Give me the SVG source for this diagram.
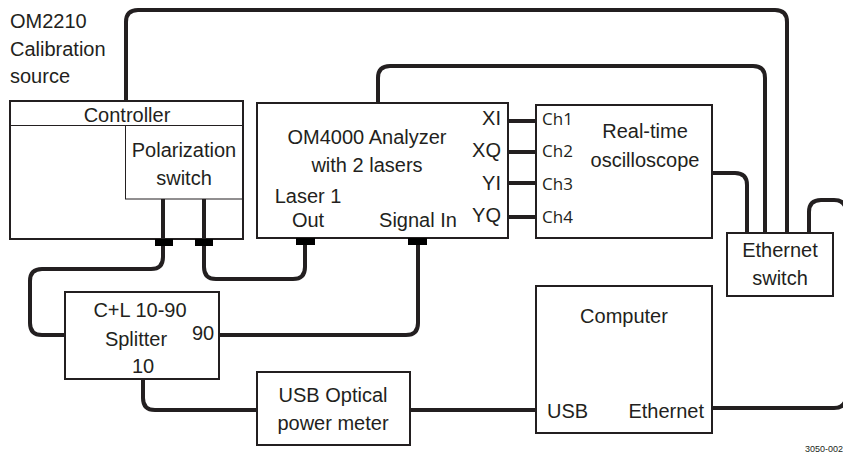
<svg xmlns="http://www.w3.org/2000/svg" width="843" height="455" viewBox="0 0 843 455">
<style>
.box{fill:#fff;stroke:#231f20;stroke-width:2}
.thin{fill:none;stroke:#231f20;stroke-width:1}
.cable{fill:none;stroke:#231f20;stroke-width:4;stroke-linejoin:round}
.conn{fill:#000}
text{font-family:"Liberation Sans",Arial,sans-serif;font-size:20px;fill:#231f20}
.c{text-anchor:middle}
.r{text-anchor:end}
.ch{font-family:"Open Sans","Liberation Sans",sans-serif;font-size:17px}
.note{font-size:9px}
</style>
<rect width="843" height="455" fill="#fff"/>
<g id="connectors">
<path class="cable" d="M126,101 V22 Q126,10 138,10 H775 Q787,10 787,22 V233"/>
<path class="cable" d="M378,103 V78 Q378,66 390,66 H753 Q765,66 765,78 V233"/>
<path class="cable" d="M712,173 H735 Q747,173 747,185 V233"/>
<path class="cable" d="M809,233 V212 Q809,200 821,200 H834 Q846,200 846,212 V396 Q846,408 834,408 H712"/>
<path class="cable" d="M508,121 H536 M508,152 H536 M508,183 H536 M508,217 H536"/>
<path class="cable" d="M163,199 V257 Q163,269 151,269 H42 Q30,269 30,281 V323 Q30,335 42,335 H65"/>
<path class="cable" d="M204,199 V267 Q204,279 216,279 H293 Q305,279 305,267 V240"/>
<path class="cable" d="M418,240 V323 Q418,335 406,335 H219"/>
<path class="cable" d="M143,379 V398 Q143,410 155,410 H257"/>
<path class="cable" d="M410,410 H536"/>
</g>
<g id="om2210">
<text x="10" y="28">OM2210</text>
<text x="10" y="56">Calibration</text>
<text x="10" y="83">source</text>
<rect class="box" x="10" y="101" width="233" height="138"/>
<line class="thin" x1="10" y1="125.5" x2="243" y2="125.5"/>
<rect class="thin" x="125.5" y="125.5" width="117.5" height="73.5"/>
<text class="c" x="127" y="122">Controller</text>
<text class="c" x="184" y="157">Polarization</text>
<text class="c" x="184" y="185">switch</text>
<path class="cable" d="M163,199 V240 M204,199 V240"/>
<rect class="conn" x="155" y="239" width="18" height="7"/>
<rect class="conn" x="195" y="239" width="18" height="7"/>
</g>
<g id="analyzer">
<rect class="box" x="257" y="103" width="251" height="135"/>
<text class="c" x="367" y="144">OM4000 Analyzer</text>
<text class="c" x="367" y="172">with 2 lasers</text>
<text class="c" x="308" y="203">Laser 1</text>
<text class="c" x="308" y="227">Out</text>
<text class="c" x="418" y="227">Signal In</text>
<text class="r" x="501" y="125">XI</text>
<text class="r" x="501" y="157">XQ</text>
<text class="r" x="501" y="190">YI</text>
<text class="r" x="501" y="222">YQ</text>
<rect class="conn" x="296" y="238" width="19" height="7"/>
<rect class="conn" x="408" y="238" width="19" height="7"/>
</g>
<g id="oscilloscope">
<rect class="box" x="536" y="105" width="176" height="133"/>
<text class="ch" x="542" y="125">Ch1</text>
<text class="ch" x="542" y="157">Ch2</text>
<text class="ch" x="542" y="190">Ch3</text>
<text class="ch" x="542" y="223">Ch4</text>
<text class="c" x="645" y="138">Real-time</text>
<text class="c" x="645" y="167">oscilloscope</text>
</g>
<g id="ethernet-switch">
<rect class="box" x="727" y="233" width="106" height="63"/>
<text class="c" x="780" y="257">Ethernet</text>
<text class="c" x="780" y="285">switch</text>
</g>
<g id="splitter">
<rect class="box" x="65" y="292" width="154" height="87"/>
<text class="c" x="140" y="317">C+L 10-90</text>
<text class="c" x="136" y="346">Splitter</text>
<text x="192" y="340">90</text>
<text class="c" x="143" y="373">10</text>
</g>
<g id="power-meter">
<rect class="box" x="257" y="372" width="153" height="73"/>
<text class="c" x="333" y="402">USB Optical</text>
<text class="c" x="333" y="430">power meter</text>
</g>
<g id="computer">
<rect class="box" x="536" y="286" width="176" height="147"/>
<text class="c" x="624" y="323">Computer</text>
<text x="547" y="418">USB</text>
<text class="r" x="704" y="418">Ethernet</text>
</g>
<text class="note" x="805" y="452">3050-002</text>
</svg>
